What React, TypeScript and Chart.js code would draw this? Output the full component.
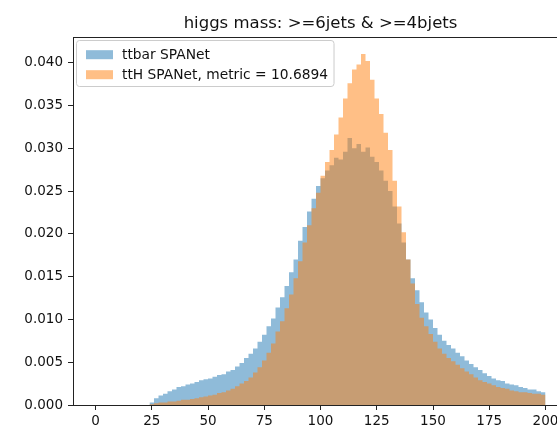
import React, { useEffect, useRef } from "react";
import { Chart, registerables } from "chart.js";

Chart.register(...registerables);

const TITLE = "higgs mass: >=6jets & >=4bjets";
const SERIES_LABELS = ["ttbar SPANet", "ttH SPANet, metric = 10.6894"];
const SERIES_COLORS = ["rgba(31,119,180,0.5)", "rgba(255,127,14,0.5)"];

// histogram bins: first edge and width
const BIN_START = 24;
const BIN_WIDTH = 2;

const TTBAR = [
  0.0003, 0.0008, 0.0011, 0.0013, 0.0016, 0.0018, 0.0021, 0.0022, 0.0024, 0.0025,
  0.0027, 0.0029, 0.0030, 0.0031, 0.0033, 0.0035, 0.0036, 0.0039, 0.0041, 0.0045,
  0.0049, 0.0055, 0.0060, 0.0066, 0.0074, 0.0082, 0.0092, 0.0101, 0.0114, 0.0126,
  0.0139, 0.0155, 0.0170, 0.0192, 0.0208, 0.0226, 0.0241, 0.0256, 0.0265, 0.0274,
  0.0280, 0.0289, 0.0287, 0.0296, 0.0312, 0.0300, 0.0305, 0.0296, 0.0301, 0.0290,
  0.0284, 0.0274, 0.0262, 0.0250, 0.0232, 0.0212, 0.0190, 0.0170, 0.0148, 0.0134,
  0.0120, 0.0108, 0.0100, 0.0090, 0.0082, 0.0075, 0.0070, 0.0066, 0.0061, 0.0057,
  0.0052, 0.0048, 0.0044, 0.0041, 0.0037, 0.0034, 0.0031, 0.0029, 0.0028, 0.0025,
  0.0024, 0.0023, 0.0021, 0.0020, 0.0018, 0.0018, 0.0016, 0.0015,
];

const TTH = [
  0.0001, 0.0002, 0.0003, 0.0003, 0.0004, 0.0004, 0.0005, 0.0006, 0.0006, 0.0007,
  0.0008, 0.0009, 0.0010, 0.0011, 0.0012, 0.0014, 0.0015, 0.0017, 0.0019, 0.0022,
  0.0025, 0.0028, 0.0032, 0.0038, 0.0044, 0.0052, 0.0061, 0.0072, 0.0086, 0.0098,
  0.0113, 0.0129, 0.0148, 0.0168, 0.0190, 0.0210, 0.0230, 0.0248, 0.0268, 0.0284,
  0.0298, 0.0316, 0.0336, 0.0358, 0.0376, 0.0392, 0.0398, 0.0410, 0.0402, 0.0380,
  0.0358, 0.0340, 0.0318, 0.0298, 0.0262, 0.0232, 0.0202, 0.0170, 0.0142, 0.0118,
  0.0102, 0.0092, 0.0083, 0.0074, 0.0066, 0.0060, 0.0055, 0.0051, 0.0047, 0.0043,
  0.0039, 0.0036, 0.0032, 0.0029, 0.0027, 0.0025, 0.0023, 0.0021, 0.0020, 0.0019,
  0.0017, 0.0016, 0.0015, 0.0015, 0.0014, 0.0013, 0.0013, 0.0012,
];

const X_TICKS = [0, 25, 50, 75, 100, 125, 150, 175, 200];
const Y_TICKS = [0, 0.005, 0.01, 0.015, 0.02, 0.025, 0.03, 0.035, 0.04];
const X_RANGE = [-10, 210];
const Y_RANGE = [0, 0.043];

const FONT = "'DejaVu Sans', sans-serif";

function stepPoints(values: number[]) {
  const pts = values.map((v, i) => ({ x: BIN_START + i * BIN_WIDTH, y: v }));
  pts.push({ x: BIN_START + values.length * BIN_WIDTH, y: values[values.length - 1] });
  return pts;
}

const decorPlugin = {
  id: "decor",
  afterDraw(chart: any) {
    const { ctx, chartArea } = chart;
    const { left, right, top, bottom } = chartArea;
    ctx.save();
    // spines
    ctx.strokeStyle = "#222";
    ctx.lineWidth = 1;
    ctx.strokeRect(left + 0.5, top + 0.5, right - left - 1, bottom - top);
    // title
    ctx.fillStyle = "#111";
    ctx.font = `16.5px ${FONT}`;
    ctx.textAlign = "center";
    ctx.textBaseline = "alphabetic";
    ctx.fillText(TITLE, (left + right) / 2, 28);
    // legend
    ctx.font = `13.8px ${FONT}`;
    const ds = chart.data.datasets;
    let maxW = 0;
    ds.forEach((d: any) => {
      maxW = Math.max(maxW, ctx.measureText(d.label).width);
    });
    const fx = 76.5;
    const fy = 40.5;
    const textX = 122;
    const fw = textX + maxW + 6 - fx;
    const fh = 46;
    ctx.beginPath();
    if ((ctx as any).roundRect) (ctx as any).roundRect(fx, fy, fw, fh, 3);
    else ctx.rect(fx, fy, fw, fh);
    ctx.fillStyle = "rgba(255,255,255,0.8)";
    ctx.fill();
    ctx.strokeStyle = "#cccccc";
    ctx.stroke();
    ds.forEach((d: any, i: number) => {
      const cy = 54.7 + i * 20;
      ctx.fillStyle = d.backgroundColor;
      ctx.fillRect(86, cy - 4.5, 27, 9);
      ctx.fillStyle = "#111";
      ctx.textAlign = "left";
      ctx.textBaseline = "middle";
      ctx.fillText(d.label, textX, cy + 0.5);
    });
    ctx.restore();
  },
};

export default function App() {
  const ref = useRef<HTMLCanvasElement | null>(null);

  useEffect(() => {
    if (!ref.current) return;
    const chart = new Chart(ref.current, {
      type: "line",
      data: {
        datasets: [
          {
            label: SERIES_LABELS[0],
            data: stepPoints(TTBAR),
            stepped: "before",
            fill: "origin",
            order: 1,
            backgroundColor: SERIES_COLORS[0],
            borderColor: "transparent",
            borderWidth: 0,
            pointRadius: 0,
          },
          {
            label: SERIES_LABELS[1],
            data: stepPoints(TTH),
            stepped: "before",
            fill: "origin",
            order: 0,
            backgroundColor: SERIES_COLORS[1],
            borderColor: "transparent",
            borderWidth: 0,
            pointRadius: 0,
          },
        ],
      } as any,
      options: {
        animation: false,
        responsive: false,
        devicePixelRatio: 1,
        events: [],
        layout: { padding: { top: 37, right: 12, left: 0, bottom: 0 } },
        plugins: {
          legend: { display: false },
          title: { display: false },
          tooltip: { enabled: false },
        },
        scales: {
          x: {
            type: "linear",
            min: X_RANGE[0],
            max: X_RANGE[1],
            border: { display: false },
            grid: { drawOnChartArea: false, drawTicks: true, tickLength: 5, color: "#222", lineWidth: 1 },
            ticks: {
              color: "#111",
              font: { family: "DejaVu Sans", size: 13.5 },
              padding: 3,
              maxRotation: 0,
              autoSkip: false,
              callback: (v: any) => String(v),
            },
            afterBuildTicks: (scale: any) => {
              scale.ticks = X_TICKS.map((v) => ({ value: v }));
            },
            afterFit: (scale: any) => {
              scale.height = 23;
            },
          },
          y: {
            type: "linear",
            min: Y_RANGE[0],
            max: Y_RANGE[1],
            border: { display: false },
            grid: { drawOnChartArea: false, drawTicks: true, tickLength: 5, color: "#222", lineWidth: 1 },
            ticks: {
              color: "#111",
              font: { family: "DejaVu Sans", size: 13.5 },
              padding: 5,
              autoSkip: false,
              callback: (v: any) => Number(v).toFixed(3),
            },
            afterBuildTicks: (scale: any) => {
              scale.ticks = Y_TICKS.map((v) => ({ value: v }));
            },
            afterFit: (scale: any) => {
              scale.width = 73;
            },
          },
        },
      },
      plugins: [decorPlugin],
    });
    return () => chart.destroy();
  }, []);

  return (
    <div
      style={{
        position: "fixed",
        left: 0,
        top: 0,
        width: 557,
        height: 428,
        overflow: "hidden",
        background: "#fff",
      }}
    >
      <canvas ref={ref} width={580} height={428} style={{ display: "block" }} />
    </div>
  );
}
